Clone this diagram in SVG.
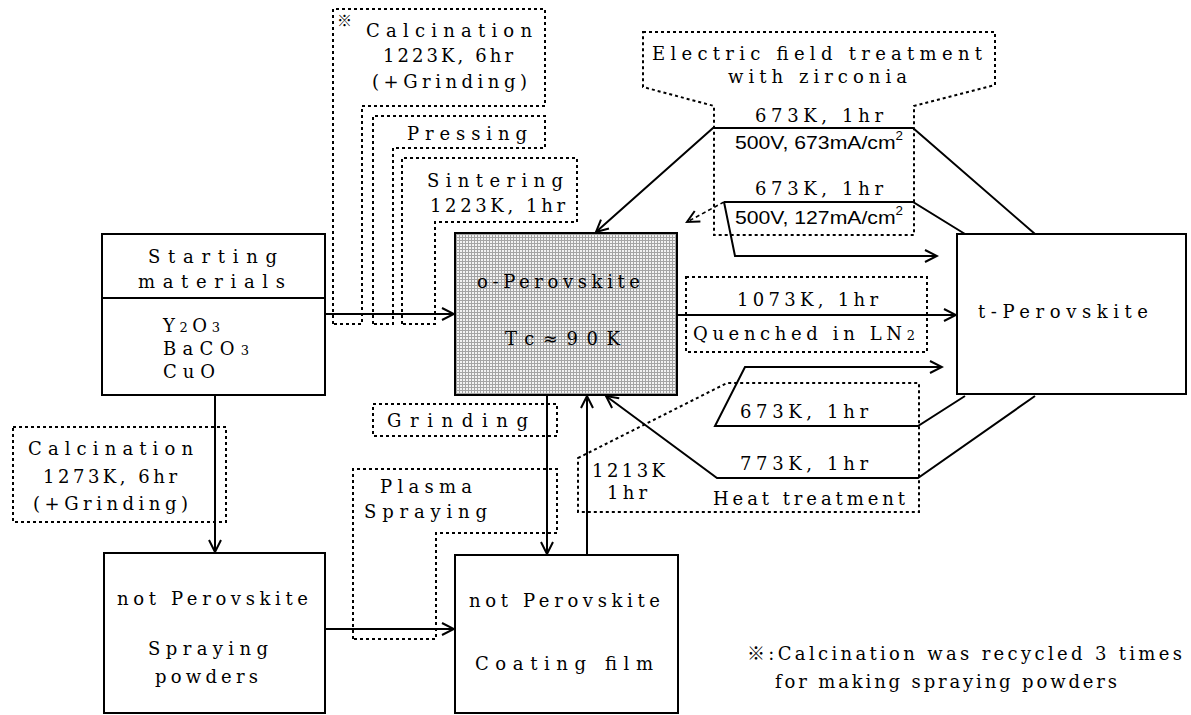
<svg xmlns="http://www.w3.org/2000/svg" width="1191" height="715" viewBox="0 0 1191 715">
  <style>
    .bg { fill: #ffffff; }
    .box { fill: #ffffff; stroke: #000; stroke-width: 2; }
    .shade { fill: url(#grid); stroke: #000; stroke-width: 2; }
    .dot { fill: none; stroke: #000; stroke-width: 2; stroke-dasharray: 3 3; }
    .line { fill: none; stroke: #000; stroke-width: 2; }
    .dline { fill: none; stroke: #000; stroke-width: 1.6; stroke-dasharray: 4 3; }
    text { font-family: "DejaVu Serif", "Liberation Serif", "Noto Sans CJK JP", serif; font-size: 18px; fill: #000; }
    .sans { font-family: "Liberation Sans", "Noto Sans CJK JP", sans-serif; font-size: 19px; }
    .sub { font-size: 13px; }
    .sup { font-size: 12px; }
  </style>
  <defs>
    <pattern id="grid" width="3" height="3" patternUnits="userSpaceOnUse">
      <rect width="3" height="3" fill="#f2f2f2"/>
      <rect width="3" height="1" fill="#a4a4a4"/>
      <rect width="1" height="3" fill="#a4a4a4"/>
    </pattern>
    <marker id="arr" viewBox="-14 -8 16 16" markerWidth="16" markerHeight="16" refX="0" refY="0" orient="auto" markerUnits="userSpaceOnUse">
      <path d="M -12 -6 L 0 0 L -12 6" fill="none" stroke="#000" stroke-width="2"/>
    </marker>
  </defs>
  <rect class="bg" x="0" y="0" width="1191" height="715"/>

  <!-- process condition labels (dotted outlines) -->
  <g id="step-calcination">
    <path class="dot" d="M333,324 V9 H545 V106 H362 V324 Z"/>
    <text x="337" y="26" style="font-size:15px">※</text>
    <text x="366" y="37" textLength="166" lengthAdjust="spacing">Calcination</text>
    <text x="383" y="62" textLength="130" lengthAdjust="spacing">1223K, 6hr</text>
    <text x="372" y="88" textLength="155" lengthAdjust="spacing">(+Grinding)</text>
  </g>
  <g id="step-pressing">
    <path class="dot" d="M373,324 V116 H545 V148 H393 V324 Z"/>
    <text x="407" y="140" textLength="120" lengthAdjust="spacing">Pressing</text>
  </g>
  <g id="step-sintering">
    <path class="dot" d="M402,324 V158 H577 V222 H435 V324 Z"/>
    <text x="427" y="187" textLength="136" lengthAdjust="spacing">Sintering</text>
    <text x="430" y="212" textLength="135" lengthAdjust="spacing">1223K, 1hr</text>
  </g>
  <g id="step-calcination-powder">
    <rect class="dot" x="13" y="427" width="213" height="95"/>
    <text x="28" y="455" textLength="165" lengthAdjust="spacing">Calcination</text>
    <text x="43" y="483" textLength="134" lengthAdjust="spacing">1273K, 6hr</text>
    <text x="33" y="510" textLength="155" lengthAdjust="spacing">(+Grinding)</text>
  </g>
  <g id="step-grinding">
    <rect class="dot" x="373" y="404" width="184" height="32"/>
    <text x="387" y="427" textLength="141" lengthAdjust="spacing">Grinding</text>
  </g>
  <g id="step-plasma">
    <path class="dot" d="M353,639 V469 H557 V533 H436 V639 Z"/>
    <text x="380" y="493" textLength="92" lengthAdjust="spacing">Plasma</text>
    <text x="364" y="518" textLength="123" lengthAdjust="spacing">Spraying</text>
  </g>
  <g id="step-quench">
    <rect class="dot" x="686" y="277" width="241" height="75"/>
    <text x="737" y="306" textLength="141" lengthAdjust="spacing">1073K, 1hr</text>
    <text x="693" y="340" textLength="222" lengthAdjust="spacing">Quenched in LN<tspan class="sub">2</tspan></text>
  </g>
  <g id="step-heat">
    <path class="dot" d="M578,458 L727,383 H919 V512 H578 Z"/>
    <text x="592" y="477" textLength="73" lengthAdjust="spacing">1213K</text>
    <text x="607" y="499" textLength="40" lengthAdjust="spacing">1hr</text>
    <text x="740" y="418" textLength="128" lengthAdjust="spacing">673K, 1hr</text>
    <text x="740" y="470" textLength="128" lengthAdjust="spacing">773K, 1hr</text>
    <text x="713" y="505" textLength="192" lengthAdjust="spacing">Heat treatment</text>
  </g>
  <g id="step-electric">
    <path class="dot" d="M643,32 H995 V85 L914,106 V235 H714 V106 L643,87 Z"/>
    <text x="652" y="60" textLength="330" lengthAdjust="spacing">Electric field treatment</text>
    <text x="728" y="83" textLength="179" lengthAdjust="spacing">with zirconia</text>
    <text x="755" y="122" textLength="128" lengthAdjust="spacing">673K, 1hr</text>
    <text class="sans" x="735" y="149" textLength="168" lengthAdjust="spacingAndGlyphs">500V, 673mA/cm<tspan class="sup" dy="-9">2</tspan></text>
    <text x="755" y="195" textLength="128" lengthAdjust="spacing">673K, 1hr</text>
    <text class="sans" x="735" y="224" textLength="168" lengthAdjust="spacingAndGlyphs">500V, 127mA/cm<tspan class="sup" dy="-9">2</tspan></text>
  </g>

  <!-- material state nodes -->
  <g id="starting-materials">
    <rect class="box" x="102" y="234" width="223" height="161"/>
    <line class="line" x1="102" y1="298" x2="325" y2="298"/>
    <text x="148" y="263" textLength="129" lengthAdjust="spacing">Starting</text>
    <text x="138" y="288" textLength="147" lengthAdjust="spacing">materials</text>
    <text x="163" y="332" textLength="57" lengthAdjust="spacing">Y<tspan class="sub">2</tspan>O<tspan class="sub">3</tspan></text>
    <text x="163" y="355" textLength="86" lengthAdjust="spacing">BaCO<tspan class="sub">3</tspan></text>
    <text x="163" y="378" textLength="52" lengthAdjust="spacing">CuO</text>
  </g>
  <g id="o-perovskite">
    <rect class="shade" x="455" y="233" width="222" height="162"/>
    <text x="477" y="288" textLength="163" lengthAdjust="spacing">o-Perovskite</text>
    <text x="505" y="345" textLength="115" lengthAdjust="spacing">Tc≈90K</text>
  </g>
  <g id="t-perovskite">
    <rect class="box" x="957" y="234" width="229" height="160"/>
    <text x="978" y="318" textLength="170" lengthAdjust="spacing">t-Perovskite</text>
  </g>
  <g id="spraying-powders">
    <rect class="box" x="104" y="553" width="221" height="160"/>
    <text x="117" y="605" textLength="191" lengthAdjust="spacing">not Perovskite</text>
    <text x="148" y="655" textLength="120" lengthAdjust="spacing">Spraying</text>
    <text x="155" y="683" textLength="103" lengthAdjust="spacing">powders</text>
  </g>
  <g id="coating-film">
    <rect class="box" x="455" y="555" width="223" height="158"/>
    <text x="469" y="607" textLength="191" lengthAdjust="spacing">not Perovskite</text>
    <text x="475" y="670" textLength="178" lengthAdjust="spacing">Coating film</text>
  </g>

  <g id="note">
    <text x="747" y="660" textLength="435" lengthAdjust="spacing">※:Calcination was recycled 3 times</text>
    <text x="775" y="688" textLength="342" lengthAdjust="spacing">for making spraying powders</text>
  </g>

  <!-- connectors -->
  <g id="connectors">
    <path class="line" d="M325,314 H454" marker-end="url(#arr)"/>
    <path class="line" d="M215,395 V552" marker-end="url(#arr)"/>
    <path class="line" d="M325,629 H454" marker-end="url(#arr)"/>
    <path class="line" d="M547,395 V554" marker-end="url(#arr)"/>
    <path class="line" d="M587,555 V396" marker-end="url(#arr)"/>
    <path class="line" d="M677,315 H956" marker-end="url(#arr)"/>
    <path class="line" d="M1035,234 L913,128 H713 L596,232" marker-end="url(#arr)"/>
    <path class="line" d="M965,234 L913,202 H724"/>
    <path class="dline" d="M724,202 L687,222" marker-end="url(#arr)"/>
    <path class="line" d="M724,202 L735,256 H937" marker-end="url(#arr)"/>
    <path class="line" d="M965,396 L918,426 H715 L745,367 H942" marker-end="url(#arr)"/>
    <path class="line" d="M1035,396 L918,478 H717 L606,396" marker-end="url(#arr)"/>
  </g>
</svg>
